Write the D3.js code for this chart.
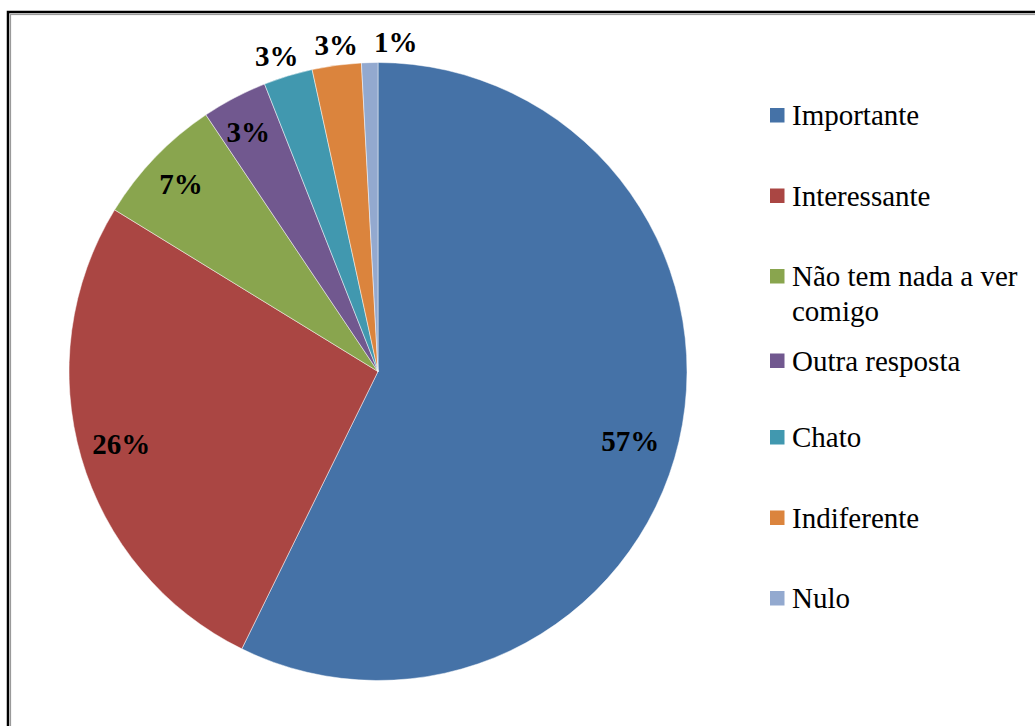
<!DOCTYPE html>
<html>
<head>
<meta charset="utf-8">
<script src="https://cdn.jsdelivr.net/npm/d3@7"></script>
<style>
  body { margin: 0; background: #fff; }
  svg { display: block; }
</style>
</head>
<body>
<div id="pie-chart"></div>
<script>
let categories = ['Importante', 'Interessante', 'Não tem nada a ver comigo', 'Outra resposta', 'Chato', 'Indiferente', 'Nulo']
let answers = [67, 31, 8, 4, 3, 3, 1]
let colors = ['#4572A7', '#AA4643', '#89A54E', '#71588F', '#4198AF', '#DB843D', '#93A9CF']

// small hand nudges for the percentage labels (dx, dy)
let labelShift = [[-11, 8], [3, -3], [-2, 0], [-4, 0], [-5, 1], [0, 2], [0, 1]]

let width = 1035
let height = 726
let cx = 378
let cy = 371.5
let radius = 309
let serif = 'Liberation Serif'

let total = d3.sum(answers)
let rows = categories.map((c, i) => ({ name: c, value: answers[i], color: colors[i], shift: labelShift[i] }))

let svg = d3.select('#pie-chart')
  .append('svg')
  .attr('width', width)
  .attr('height', height)

// double frame, the right and bottom sides run off the page
svg.append('rect')
  .attr('x', 8).attr('y', 12)
  .attr('width', width + 20).attr('height', height + 20)
  .attr('fill', 'none')
  .attr('stroke', '#000')
  .attr('stroke-width', 2.5)
svg.append('rect')
  .attr('x', 10.5).attr('y', 14.5)
  .attr('width', width + 20).attr('height', height + 20)
  .attr('fill', 'none')
  .attr('stroke', '#9a9a9a')
  .attr('stroke-width', 1.2)

let pie = d3.pie()
  .sort(null)
  .value(d => d.value)

let arc = d3.arc()
  .innerRadius(0)
  .outerRadius(radius)

let slices = pie(rows)

let chart = svg.append('g')
  .attr('transform', `translate(${cx},${cy})`)

chart.selectAll('path')
  .data(slices)
  .join('path')
  .attr('d', arc)
  .attr('fill', d => d.data.color)
  .attr('stroke', '#fff')
  .attr('stroke-width', 0.8)
  .attr('stroke-opacity', 0.6)

// small slices get their label outside the pie
let insideArc = d3.arc().innerRadius(radius * 0.875).outerRadius(radius * 0.875)
let outsideArc = d3.arc().innerRadius(radius + 22).outerRadius(radius + 22)
let isOutside = d => d.endAngle - d.startAngle < 0.17

let labels = chart.selectAll('text.pct')
  .data(slices)
  .join('text')
  .attr('class', 'pct')
  .attr('text-anchor', 'middle')
  .attr('dominant-baseline', 'central')
  .attr('font-family', serif)
  .attr('font-weight', 'bold')
  .attr('font-size', 29)
  .attr('fill', '#000')
  .text(d => `${Math.round(d.data.value / total * 100)}%`)
  .each(function (d) {
    let p = isOutside(d) ? outsideArc.centroid(d) : insideArc.centroid(d)
    d.lx = p[0] + d.data.shift[0]
    d.ly = p[1] + d.data.shift[1]
  })
  .attr('x', d => d.lx)
  .attr('y', d => d.ly)

// push outside labels apart when they collide
let prevRight = -Infinity
labels.filter(d => isOutside(d)).each(function (d) {
  let w = this.getComputedTextLength()
  let left = d.lx - w / 2
  if (left < prevRight + 16) {
    d.lx = prevRight + 16 + w / 2
    d3.select(this).attr('x', d.lx)
  }
  prevRight = d.lx + w / 2
})

// legend
let legend = svg.append('g')
  .attr('transform', 'translate(770,0)')

let entry = legend.selectAll('g')
  .data(rows)
  .join('g')
  .attr('transform', (d, i) => `translate(0,${115 + i * 80.5 + (i == 3 ? 4 : 0)})`)

entry.append('rect')
  .attr('x', 0)
  .attr('y', -7)
  .attr('width', 14.5)
  .attr('height', 14.5)
  .attr('fill', d => d.color)

entry.append('text')
  .attr('x', 22)
  .attr('y', 10)
  .attr('font-family', serif)
  .attr('font-size', 29)
  .attr('fill', '#000')
  .each(function (d) {
    let t = d3.select(this)
    let words = d.name.split(' ')
    let line = []
    let tspan = t.append('tspan').attr('x', 22).attr('dy', 0)
    words.forEach(w => {
      line.push(w)
      tspan.text(line.join(' '))
      if (tspan.node().getComputedTextLength() > 232 && line.length > 1) {
        line.pop()
        tspan.text(line.join(' '))
        line = [w]
        tspan = t.append('tspan').attr('x', 22).attr('dy', 35).text(w)
      }
    })
  })
</script>
</body>
</html>
